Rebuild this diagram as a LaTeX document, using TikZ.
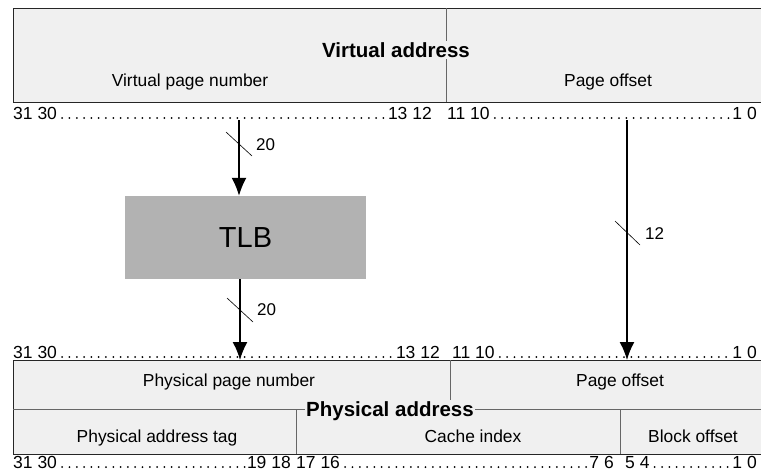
\documentclass[tikz,border=0pt]{standalone}
\usepackage{fontspec}
\setmainfont{Liberation Sans}
\usetikzlibrary{arrows.meta}

\tikzset{
  field/.style={draw=black!85, fill=black!6, line width=0.8pt},
  divider/.style={draw=black!60, line width=0.8pt},
  fieldlabel/.style={font=\fontsize{17.4}{20}\selectfont, inner sep=0pt, anchor=base},
  title/.style={font=\fontsize{20.5}{24}\selectfont\bfseries, fill=black!6, inner sep=1.5pt, anchor=base},
  bit/.style={font=\fontsize{17.5}{20}\selectfont, inner sep=0pt},
  bitdots/.style={line width=2pt, line cap=round, dash pattern=on 0pt off 7.3pt},
  bus/.style={line width=1.6pt, -{Latex[length=18pt,width=15pt]}},
  slash/.style={line width=0.6pt},
  buswidth/.style={font=\fontsize{17}{20}\selectfont, anchor=west, inner sep=0pt},
  tlbbox/.style={fill=black!30, minimum width=241pt, minimum height=83pt,
    font=\fontsize{29}{34}\selectfont},
}

\begin{document}
\begin{tikzpicture}[x=1pt,y=-1pt]
    \useasboundingbox (0,0) rectangle (761,472);
    % virtual address
    \draw[field] (761,8) -- (13,8) -- (13,102) -- (761,102);
    \draw[divider] (446,8) -- (446,102);
    \node[title] (va) at (396,57) {Virtual address};
    \node[fieldlabel] (vpn) at (190,86) {Virtual page number};
    \node[fieldlabel] (vpo) at (608,86) {Page offset};

    % physical address
    \draw[field] (761,360) -- (13,360) -- (13,454) -- (761,454);
    \draw[divider] (450,360) -- (450,409);
    \draw[divider] (13,409) -- (761,409);
    \draw[divider] (296,409) -- (296,454);
    \draw[divider] (620,409) -- (620,454);
    \node[title] (pa) at (390,416) {Physical address};
    \node[fieldlabel] (ppn) at (229,386) {Physical page number};
    \node[fieldlabel] (ppo) at (620,386) {Page offset};
    \node[fieldlabel] (tag) at (157,442) {Physical address tag};
    \node[fieldlabel] (idx) at (473,442) {Cache index};
    \node[fieldlabel] (blk) at (693,442) {Block offset};

    % bit numbers
    \foreach \name/\x/\y/\side/\txt in {t31/13/119/west/31 30, t13/432/119/east/13 12,
        t11/447/119/west/11 10, t1/757/119/east/1 0,
        m31/13/358/west/31 30, m13/440/358/east/13 12,
        m11/452/358/west/11 10, m1/757/358/east/1 0,
        b31/13/468/west/31 30, b19/291/468/east/19 18, b17/296/468/west/17 16,
        b7/614/468/east/7 6, b5/625/468/west/5 4, b1/757/468/east/1 0}
        \node[bit, anchor=base \side] (\name) at (\x,\y) {\txt};
    \foreach \a/\b in {t31/t13, t11/t1, m31/m13, m11/m1, b31/b19, b17/b7, b5/b1}
        \draw[bitdots] ([xshift=5pt,yshift=1pt]\a.base east) -- ([xshift=-2pt,yshift=1pt]\b.base west);

    % translation
    \node[tlbbox] (tlb) at (245.5,237.5) {TLB};
    \coordinate (vpnbits) at (239,120);
    \coordinate (ppnbits) at (240,360);
    \coordinate (offbits) at (627,120);
    \coordinate (offin) at (627,360);
    \draw[bus] (vpnbits) -- (vpnbits |- tlb.north);
    \draw[bus] (tlb.south -| ppnbits) -- (ppnbits);
    \draw[bus] (offbits) -- (offin);

    \draw[slash] (226,132) -- (252,156);
    \node[buswidth] (w1) at (256,145) {20};
    \draw[slash] (227,298) -- (253,322);
    \node[buswidth] (w2) at (257,310) {20};
    \draw[slash] (615,221) -- (640,245);
    \node[buswidth] (w3) at (645,234) {12};
\end{tikzpicture}
\end{document}
